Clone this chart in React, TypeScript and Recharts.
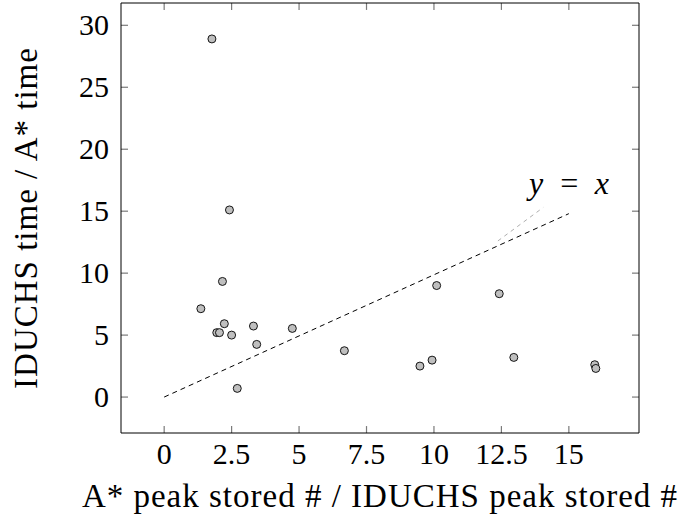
import { ScatterChart, Scatter, XAxis, YAxis, ReferenceLine, ReferenceDot } from "recharts";

// ratio of peak stored nodes (A* / IDUCHS) vs ratio of run time (IDUCHS / A*)
const peakRatio = [1.77, 2.42, 2.16, 1.36, 2.23, 1.95, 2.05, 2.5, 3.31, 3.43, 4.75, 6.68, 2.71, 10.1, 12.42, 9.48, 9.93, 12.96, 15.96, 16.0];
const timeRatio = [28.9, 15.1, 9.33, 7.13, 5.92, 5.2, 5.2, 5.0, 5.73, 4.25, 5.54, 3.74, 0.7, 9.0, 8.34, 2.5, 2.98, 3.2, 2.61, 2.31];

const xTicks = [0, 2.5, 5, 7.5, 10, 12.5, 15];
const yTicks = [0, 5, 10, 15, 20, 25, 30];

const X_DOMAIN: [number, number] = [-1.6, 17.6];
const Y_DOMAIN: [number, number] = [-2.9, 31.8];
// inward tick length in data units (about 7px on each axis)
const X_TICK_LEN = 0.26;
const Y_TICK_LEN = 0.56;

const points = peakRatio.map((x, i) => ({ x, y: timeRatio[i] }));
const xTickSegs = xTicks.map((t) => ({ x: t }));
const yTickSegs = yTicks.map((t) => ({ y: t }));

const font = "Liberation Serif";
const tickGrey = "#7a7a7a";

const Dot = (props: any) => (
  <circle cx={props.cx} cy={props.cy} r={4} fill="#bfbfbf" stroke="#000" strokeWidth={0.9} />
);
const NoDot = () => <g />;

const BottomTick = ({ x, y, payload }: any) => (
  <text x={x} y={y + 31} textAnchor="middle" fontFamily={font} fontSize={30} fill="#000">
    {payload.value}
  </text>
);
const LeftTick = ({ x, y, payload }: any) => (
  <text x={x - 12} y={y + 10} textAnchor="end" fontFamily={font} fontSize={30} fill="#000">
    {payload.value}
  </text>
);

const XLabel = ({ viewBox }: any) => (
  <text
    x={viewBox.x + viewBox.width / 2}
    y={viewBox.y + 74}
    textAnchor="middle"
    fontFamily={font}
    fontSize={33}
    letterSpacing={1}
    fill="#000"
  >
    A* peak stored # / IDUCHS peak stored #
  </text>
);

const YLabel = ({ viewBox }: any) => {
  const cx = 37;
  const cy = viewBox.y + viewBox.height / 2;
  return (
    <text
      x={cx}
      y={cy}
      transform={`rotate(-90, ${cx}, ${cy})`}
      textAnchor="middle"
      fontFamily={font}
      fontSize={33}
      letterSpacing={1}
      fill="#000"
    >
      IDUCHS time / A* time
    </text>
  );
};

const EqLabel = ({ viewBox }: any) => (
  <text
    x={viewBox.x}
    y={viewBox.y + 10}
    textAnchor="middle"
    fontFamily={font}
    fontSize={32}
    fontStyle="italic"
    letterSpacing={3.5}
    fill="#000"
  >
    y = x
  </text>
);

export default function App() {
  return (
    <div style={{ fontFamily: font }}>
      <style>{`body{margin:0}`}</style>
      <ScatterChart width={686} height={516} margin={{ top: 2, right: 46, bottom: 0, left: 0 }}>
        <XAxis
          dataKey="x"
          type="number"
          domain={X_DOMAIN}
          ticks={xTicks}
          allowDataOverflow
          height={83}
          tickSize={0}
          tickMargin={0}
          tick={<BottomTick />}
          tickLine={false}
          axisLine={{ stroke: "#000" }}
          label={<XLabel />}
        />
        <XAxis
          xAxisId="top"
          dataKey="x"
          orientation="top"
          type="number"
          domain={X_DOMAIN}
          ticks={xTicks}
          allowDataOverflow
          height={1}
          tick={false}
          tickLine={false}
          axisLine={{ stroke: "#000" }}
        />
        <YAxis
          dataKey="y"
          type="number"
          domain={Y_DOMAIN}
          ticks={yTicks}
          allowDataOverflow
          width={121}
          tickSize={0}
          tickMargin={0}
          tick={<LeftTick />}
          tickLine={false}
          axisLine={{ stroke: "#000" }}
          label={<YLabel />}
        />
        <YAxis
          yAxisId="right"
          dataKey="y"
          orientation="right"
          type="number"
          domain={Y_DOMAIN}
          ticks={yTicks}
          allowDataOverflow
          width={1}
          tick={false}
          tickLine={false}
          axisLine={{ stroke: "#000" }}
        />
        {xTickSegs.map((s) => (
          <ReferenceLine
            key={`xb${s.x}`}
            segment={[{ x: s.x, y: Y_DOMAIN[0] }, { x: s.x, y: Y_DOMAIN[0] + Y_TICK_LEN }]}
            stroke={tickGrey}
            strokeWidth={1.2}
            ifOverflow="extendDomain"
          />
        ))}
        {xTickSegs.map((s) => (
          <ReferenceLine
            key={`xt${s.x}`}
            segment={[{ x: s.x, y: Y_DOMAIN[1] }, { x: s.x, y: Y_DOMAIN[1] - Y_TICK_LEN }]}
            stroke={tickGrey}
            strokeWidth={1.2}
            ifOverflow="extendDomain"
          />
        ))}
        {yTickSegs.map((s) => (
          <ReferenceLine
            key={`yl${s.y}`}
            segment={[{ x: X_DOMAIN[0], y: s.y }, { x: X_DOMAIN[0] + X_TICK_LEN, y: s.y }]}
            stroke={tickGrey}
            strokeWidth={1.2}
            ifOverflow="extendDomain"
          />
        ))}
        {yTickSegs.map((s) => (
          <ReferenceLine
            key={`yr${s.y}`}
            segment={[{ x: X_DOMAIN[1], y: s.y }, { x: X_DOMAIN[1] - X_TICK_LEN, y: s.y }]}
            stroke={tickGrey}
            strokeWidth={1.2}
            ifOverflow="extendDomain"
          />
        ))}
        <ReferenceLine
          segment={[{ x: 0, y: 0 }, { x: 15, y: 14.8 }]}
          stroke="#000"
          strokeWidth={1}
          strokeDasharray="5 4"
        />
        <ReferenceLine
          segment={[{ x: 12.37, y: 12.6 }, { x: 14.05, y: 15.3 }]}
          stroke="#999"
          strokeWidth={0.8}
          strokeDasharray="4 4"
        />
        <ReferenceDot x={15.07} y={17.2} r={0} fill="none" stroke="none" label={<EqLabel />} />
        <Scatter data={points} shape={Dot} isAnimationActive={false} />
        <Scatter data={points} xAxisId="top" yAxisId="right" shape={NoDot} isAnimationActive={false} />
      </ScatterChart>
    </div>
  );
}
